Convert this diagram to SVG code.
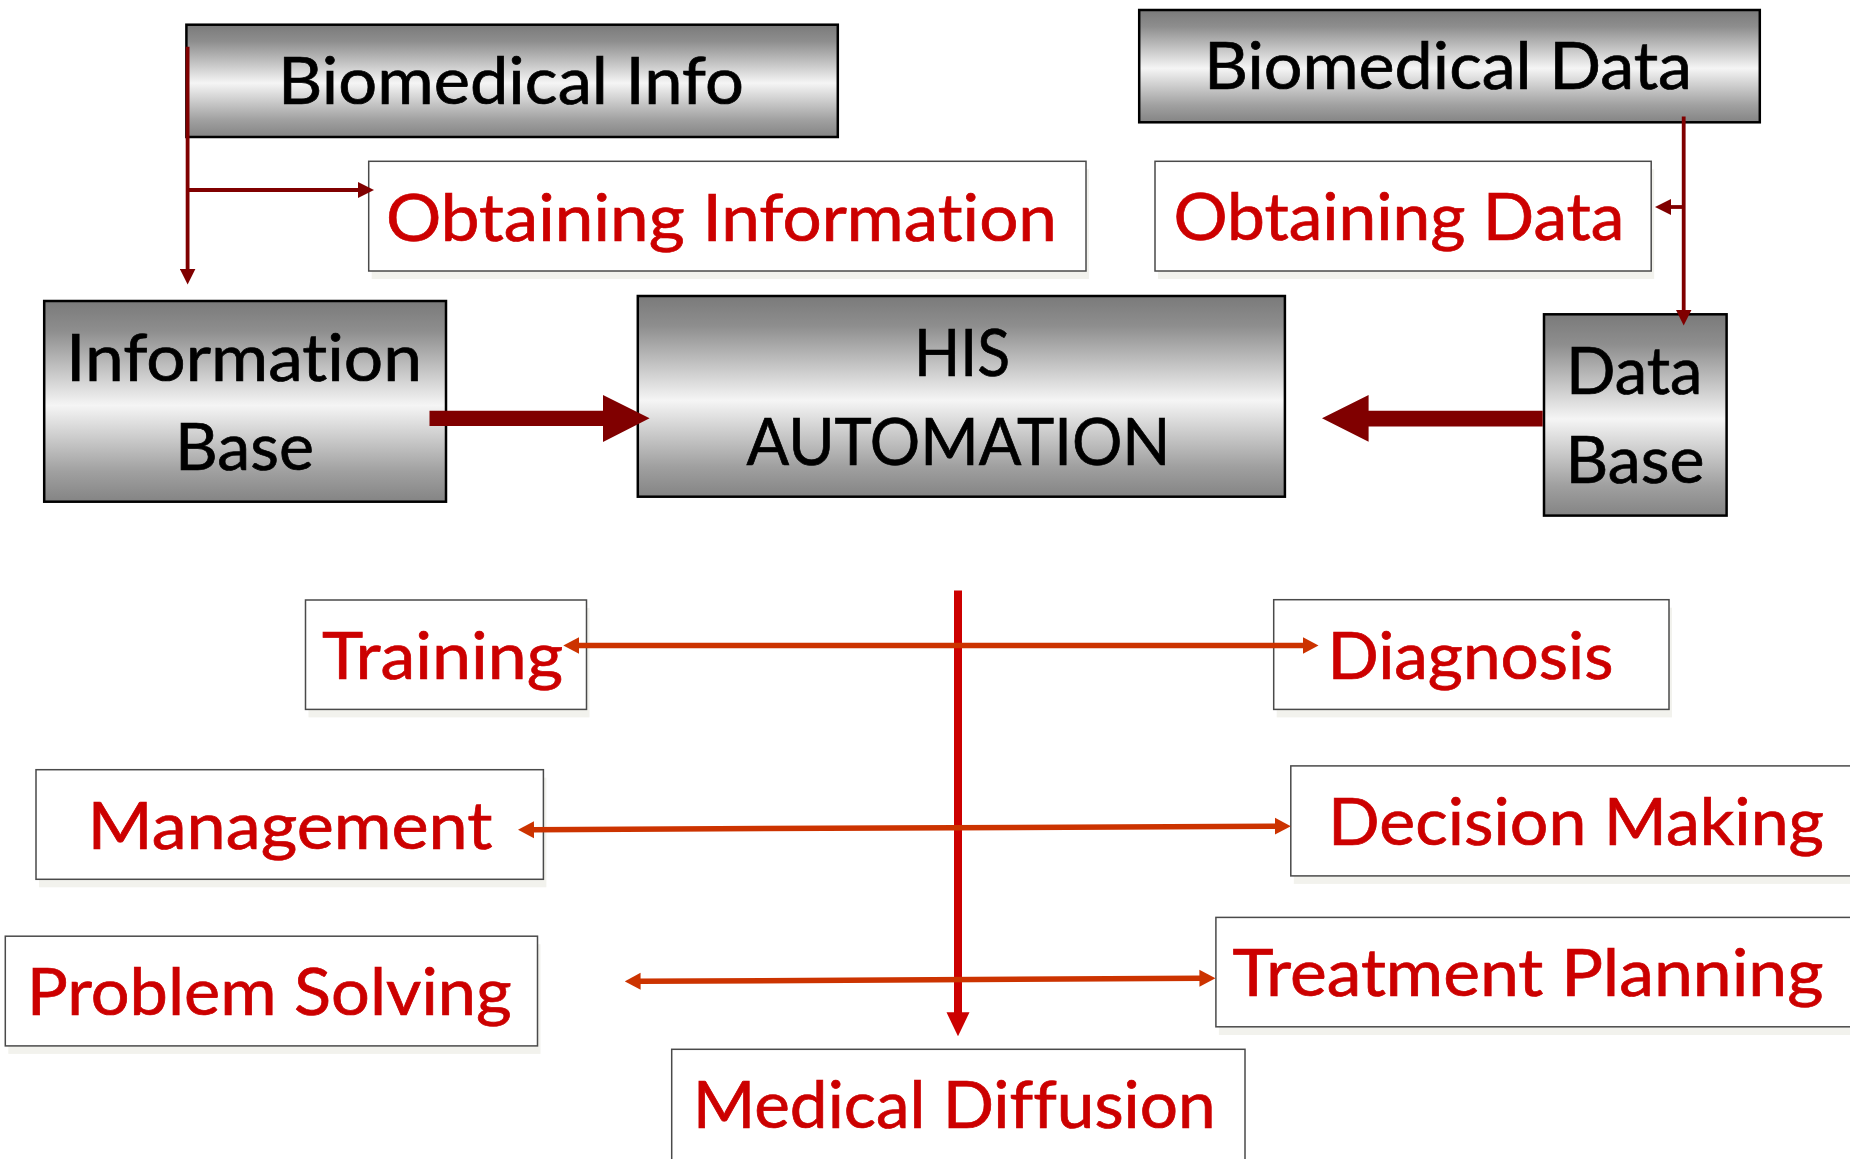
<svg xmlns="http://www.w3.org/2000/svg" width="1850" height="1159" viewBox="0 0 1850 1159">
<defs>
<linearGradient id="gray" x1="0" y1="0" x2="0" y2="1">
<stop offset="0" stop-color="#7a7a7a"/>
<stop offset="0.15" stop-color="#8e8e8e"/>
<stop offset="0.52" stop-color="#f5f5f5"/>
<stop offset="0.85" stop-color="#a0a0a0"/>
<stop offset="1" stop-color="#848484"/>
</linearGradient>
<marker id="mDark" markerUnits="userSpaceOnUse" viewBox="0 -8 16 16" markerWidth="16" markerHeight="16" refX="1" refY="0" orient="auto-start-reverse">
<path d="M0,-8 L16,0 L0,8 z" fill="#800000"/>
</marker>
<marker id="mOrange" markerUnits="userSpaceOnUse" viewBox="0 -9 16 18" markerWidth="16" markerHeight="18" refX="1" refY="0" orient="auto-start-reverse">
<path d="M0,-8.5 L16,0 L0,8.5 z" fill="#CC3300"/>
</marker>
<marker id="mRed" markerUnits="userSpaceOnUse" viewBox="0 -12 24 24" markerWidth="24" markerHeight="24" refX="1" refY="0" orient="auto-start-reverse">
<path d="M0,-11.5 L24,0 L0,11.5 z" fill="#CC0000"/>
</marker>
</defs>
<style>
.gbox{fill:url(#gray);stroke:#000;stroke-width:2.5}
.wbox{fill:#fff;stroke:#4a4a4a;stroke-width:1.5}
.shadow{fill:#f2f2ed}
.bt{font-family:Lato,"Open Sans","Liberation Sans",sans-serif;font-size:65px;fill:#000;stroke:#000;stroke-width:0.7;font-variant-ligatures:none}
.rt{font-family:Lato,"Open Sans","Liberation Sans",sans-serif;font-size:65px;fill:#CC0000;stroke:#CC0000;stroke-width:0.7;font-variant-ligatures:none}
.dark{fill:none;stroke:#800000;stroke-width:3.8}
.orange{fill:none;stroke:#CC3300;stroke-width:5.5}
.red{fill:none;stroke:#CC0000;stroke-width:8}
.thick{fill:#800000}
</style>
<rect width="1850" height="1159" fill="#fff"/>

<g id="biomedical-info">
<rect class="gbox" x="186.4" y="24.7" width="651.4" height="112.3"/>
<text class="bt" x="278" y="104" textLength="466" lengthAdjust="spacingAndGlyphs">Biomedical Info</text>
</g>

<g id="biomedical-data">
<rect class="gbox" x="1139.2" y="10" width="620.6" height="112.3"/>
<text class="bt" x="1204" y="89.3" textLength="488" lengthAdjust="spacingAndGlyphs">Biomedical Data</text>
</g>

<g id="obtaining-information">
<rect class="shadow" x="371.7" y="169.3" width="717.3" height="109.7"/>
<rect class="wbox" x="368.7" y="161.3" width="717.3" height="109.7"/>
<text class="rt" x="386" y="240.5" textLength="671" lengthAdjust="spacingAndGlyphs">Obtaining Information</text>
</g>

<g id="obtaining-data">
<rect class="shadow" x="1158" y="169.3" width="496.2" height="109.7"/>
<rect class="wbox" x="1155" y="161.3" width="496.2" height="109.7"/>
<text class="rt" x="1173.5" y="240" textLength="451" lengthAdjust="spacingAndGlyphs">Obtaining Data</text>
</g>

<g id="information-base">
<rect class="gbox" x="44.2" y="301" width="401.8" height="200.7"/>
<text class="bt" x="66" y="381" textLength="356" lengthAdjust="spacingAndGlyphs">Information</text>
<text class="bt" x="175" y="470" textLength="139" lengthAdjust="spacingAndGlyphs">Base</text>
</g>

<g id="his-automation">
<rect class="gbox" x="637.8" y="296" width="647.1" height="200.7"/>
<text class="bt" x="914" y="375.7" textLength="96" lengthAdjust="spacingAndGlyphs">HIS</text>
<text class="bt" x="746.5" y="465" textLength="424" lengthAdjust="spacingAndGlyphs">AUTOMATION</text>
</g>

<g id="data-base">
<rect class="gbox" x="1544" y="314.3" width="182.6" height="201.3"/>
<text class="bt" x="1566" y="394" textLength="136.5" lengthAdjust="spacingAndGlyphs">Data</text>
<text class="bt" x="1565.5" y="483.3" textLength="139" lengthAdjust="spacingAndGlyphs">Base</text>
</g>

<g id="training">
<rect class="shadow" x="308.5" y="608" width="281" height="109.4"/>
<rect class="wbox" x="305.5" y="600" width="281" height="109.4"/>
<text class="rt" x="322" y="679.3" textLength="241" lengthAdjust="spacingAndGlyphs">Training</text>
</g>

<g id="diagnosis">
<rect class="shadow" x="1276.7" y="607.7" width="395.3" height="109.7"/>
<rect class="wbox" x="1273.7" y="599.7" width="395.3" height="109.7"/>
<text class="rt" x="1327.5" y="679.2" textLength="286" lengthAdjust="spacingAndGlyphs">Diagnosis</text>
</g>

<g id="management">
<rect class="shadow" x="39" y="777.7" width="507.4" height="109.6"/>
<rect class="wbox" x="36" y="769.7" width="507.4" height="109.6"/>
<text class="rt" x="87.5" y="849.2" textLength="405" lengthAdjust="spacingAndGlyphs">Management</text>
</g>

<g id="decision-making">
<rect class="shadow" x="1293.8" y="873.9" width="570" height="10"/>
<rect class="wbox" x="1290.8" y="765.9" width="570" height="110"/>
<text class="rt" x="1328" y="845" textLength="496" lengthAdjust="spacingAndGlyphs">Decision Making</text>
</g>

<g id="problem-solving">
<rect class="shadow" x="8.3" y="944.2" width="532.2" height="109.7"/>
<rect class="wbox" x="5.3" y="936.2" width="532.2" height="109.7"/>
<text class="rt" x="26.7" y="1015.3" textLength="485" lengthAdjust="spacingAndGlyphs">Problem Solving</text>
</g>

<g id="treatment-planning">
<rect class="shadow" x="1218.9" y="1025" width="650" height="10"/>
<rect class="wbox" x="1215.9" y="917.4" width="650" height="109.4"/>
<text class="rt" x="1232.5" y="996.2" textLength="591" lengthAdjust="spacingAndGlyphs">Treatment Planning</text>
</g>

<g id="medical-diffusion">
<rect class="wbox" x="671.7" y="1049.3" width="573.3" height="140"/>
<text class="rt" x="692.7" y="1128.3" textLength="523" lengthAdjust="spacingAndGlyphs">Medical Diffusion</text>
</g>

<g id="connectors">
<path class="dark" d="M187.6,46.7 V269.5" marker-end="url(#mDark)"/>
<path class="dark" d="M187.6,190 H359" marker-end="url(#mDark)"/>
<path class="dark" d="M1683.7,116.5 V310.5" marker-end="url(#mDark)"/>
<path class="dark" d="M1683.7,207 H1670" marker-end="url(#mDark)"/>
<polygon class="thick" points="429.5,410.7 603,410.7 603,395 649.6,418.3 603,442 603,426 429.5,426"/>
<polygon class="thick" points="1542.7,410.7 1368.6,410.7 1368.6,395 1322,418.3 1368.6,441.7 1368.6,426.5 1542.7,426.5"/>
<path class="red" d="M958,590.6 V1013.3" marker-end="url(#mRed)"/>
<path class="orange" d="M578.3,645.5 L1303.5,645.5" marker-start="url(#mOrange)" marker-end="url(#mOrange)"/>
<path class="orange" d="M533,829.7 L1275.8,826.2" marker-start="url(#mOrange)" marker-end="url(#mOrange)"/>
<path class="orange" d="M639.6,981.3 L1200.4,978.3" marker-start="url(#mOrange)" marker-end="url(#mOrange)"/>
</g>
</svg>
